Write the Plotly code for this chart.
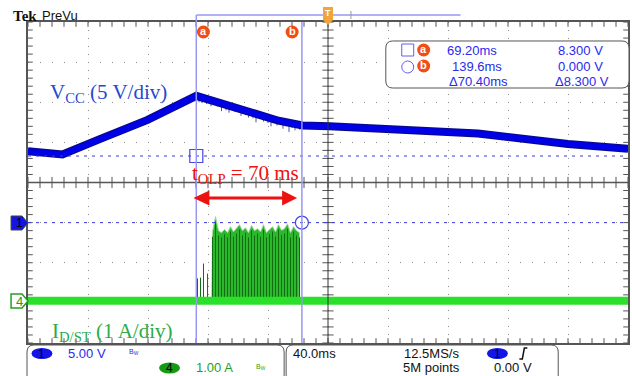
import numpy as np
import plotly.graph_objects as go

# CH1 : Vcc, 5 V/div  (time in ms, value in V)
vcc_t = [-43, -20, 4.8, 36.7, 69.2, 93, 111, 124, 140, 158, 257, 317, 357]
vcc_v = [8.9, 8.5, 10.4, 12.8, 15.8, 14.5, 13.5, 12.7, 12.1, 12.0, 11.1, 9.8, 9.2]
# downward glitches on Vcc during the overload window
vcc_glitch_t = [71, 73, 76, 79, 83, 86, 89, 91, 95, 99, 102, 104, 107, 109, 112, 114,
                117, 119, 121, 123, 125, 127, 129, 131, 133, 135, 138]
vcc_glitch_lo = [15.0, 14.9, 14.8, 14.5, 14.5, 13.9, 14.0, 13.7, 13.8, 13.3, 13.4, 13.1, 13.0, 12.5,
                 12.9, 12.6, 12.4, 12.0, 12.4, 12.1, 12.2, 11.7, 12.0, 11.3, 11.8, 11.5, 11.6]

# CH4 : Id/st, 1 A/div  (switching burst, peak of each pulse in A)
id_early_t = [70.0, 72.0, 74.0, 76.7]
id_early_pk = [0.68, 0.70, 1.05, 0.80]
id_block_t = [80, 82, 84, 86, 88, 90, 92, 94, 96, 98, 100, 102, 104, 106, 108,
              110, 112, 114, 116, 118, 120, 122, 124, 126, 128, 130, 132, 134, 136, 138]
id_block_pk = [1.72, 2.10, 1.75, 1.70, 1.78, 1.70, 1.85, 1.72, 1.80, 1.90, 1.75, 1.82, 1.70, 1.88, 1.75,
               1.80, 1.72, 1.90, 1.70, 1.78, 1.85, 1.72, 1.90, 1.76, 1.80, 1.92, 1.70, 1.85, 1.75, 1.70]
id_start, id_stop = 79.5, 137.8

# cursors
cursor_t = [69.2, 139.6]
cursor_v = [8.3, 0.0]
readout_t = ["69.20ms", "139.6ms", "\u039470.40ms"]
readout_v = ["8.300 V", "0.000 V", "\u03948.300 V"]

T0, T1 = -43, 357          # 10 div x 40 ms

# ---- screen geometry (pixels) ----
W, H = 632, 376
L, R, T, B = 28, 630, 22, 343
PXMS = (R - L) / (T1 - T0)
PXDIV = (B - T) / 8


def PX(x):
    return (x - L) / (R - L)


def PY(y):
    return (B - y) / (B - T)


BLUE_TXT = "#2a2aee"
GREEN_TXT = "#1f9f1f"
BORDER = "#555555"
GRID = "#8f8f8f"
CURSOR = "#9797f2"
ORANGE = "#f04e14"

fig = go.Figure()

# ---- CH4 burst ----
fig.add_trace(go.Scatter(
    x=[id_start] + id_block_t + [id_stop], y=[0] + id_block_pk + [0],
    yaxis="y3", mode="lines", fill="toself", fillcolor="#2cb82c",
    line=dict(color="#a8d8a8", width=1)))
xs, ys = [], []
for t, p in zip(id_early_t + id_block_t, id_early_pk + id_block_pk):
    xs += [t, t, None]
    ys += [0, p - 0.12, None]
fig.add_trace(go.Scatter(x=xs, y=ys, yaxis="y3", mode="lines",
                         line=dict(color="#0f6e0f", width=1)))
fig.add_trace(go.Scatter(x=[T0, T1], y=[0, 0], yaxis="y3", mode="lines",
                         line=dict(color="#2ae02a", width=8)))

# ---- CH1 Vcc ----
gx, gy = [], []
for t, lo in zip(vcc_glitch_t, vcc_glitch_lo):
    gx += [t, t, None]
    gy += [float(np.interp(t, vcc_t, vcc_v)), lo, None]
fig.add_trace(go.Scatter(x=gx, y=gy, yaxis="y2", mode="lines",
                         line=dict(color="#22228a", width=0.8)))
fig.add_trace(go.Scatter(x=vcc_t, y=vcc_v, yaxis="y2", mode="lines",
                         line=dict(color="#0a0a80", width=8)))
fig.add_trace(go.Scatter(x=vcc_t, y=vcc_v, yaxis="y2", mode="lines",
                         line=dict(color="#0000e6", width=6)))

# ---- graticule ticks ----
minor_x = np.arange(T0, T1 + 0.1, 8)
minor_y = np.arange(-4, 4.001, 0.2)
dy = 2 / PXDIV
dx = 2 / PXMS
tick_marker = dict(color=BORDER, line=dict(color=BORDER, width=1))
for yy, size in [(4 - dy, 4), (-4 + dy, 4), (0, 8)]:
    fig.add_trace(go.Scatter(x=minor_x, y=[yy] * len(minor_x), mode="markers",
                             marker=dict(symbol="line-ns", size=size, **tick_marker)))
for xx, size in [(T0 + dx, 4), (T1 - dx, 4), (157, 8)]:
    fig.add_trace(go.Scatter(x=[xx] * len(minor_y), y=minor_y, mode="markers",
                             marker=dict(symbol="line-ew", size=size, **tick_marker)))

# cursor markers
fig.add_trace(go.Scatter(x=cursor_t, y=cursor_v, yaxis="y2", mode="markers",
                         marker=dict(symbol=["square-open", "circle-open"], size=13,
                                     color="#4646e6", line=dict(width=1.2))))

shapes = []
# center lines
shapes.append(dict(type="line", xref="x", yref="paper", x0=157, x1=157, y0=0, y1=1,
                   line=dict(color="#333333", width=1)))
shapes.append(dict(type="line", xref="paper", yref="y", x0=0, x1=1, y0=0, y1=0,
                   line=dict(color="#555555", width=1.5)))
# horizontal (voltage) cursors
for v in cursor_v:
    shapes.append(dict(type="line", xref="paper", yref="y2", x0=0, x1=1, y0=v, y1=v,
                       line=dict(color="#3a3adc", width=1, dash="3px,5px")))
# vertical (time) cursors
shapes.append(dict(type="line", xref="x", yref="paper", x0=cursor_t[0], x1=cursor_t[0],
                   y0=0, y1=PY(15), line=dict(color=CURSOR, width=1.5)))
shapes.append(dict(type="line", xref="x", yref="paper", x0=cursor_t[1], x1=cursor_t[1],
                   y0=0, y1=1, line=dict(color=CURSOR, width=1.5)))
# record-view bar at top
shapes.append(dict(type="line", xref="paper", yref="paper", x0=PX(197), x1=PX(462),
                   y0=PY(15), y1=PY(15), line=dict(color=CURSOR, width=1.5)))
shapes.append(dict(type="line", xref="paper", yref="paper", x0=PX(352), x1=PX(352),
                   y0=PY(11), y1=PY(19), line=dict(color="#999999", width=1)))


def path(points, close=True):
    s = "M " + " L ".join(f"{PX(x):.5f},{PY(y):.5f}" for x, y in points)
    return s + (" Z" if close else "")


def rounded(x0, y0, x1, y1, r):
    c = lambda x, y: f"{PX(x):.5f},{PY(y):.5f}"
    return (f"M {c(x0 + r, y0)} L {c(x1 - r, y0)} Q {c(x1, y0)} {c(x1, y0 + r)} "
            f"L {c(x1, y1 - r)} Q {c(x1, y1)} {c(x1 - r, y1)} L {c(x0 + r, y1)} "
            f"Q {c(x0, y1)} {c(x0, y1 - r)} L {c(x0, y0 + r)} Q {c(x0, y0)} {c(x0 + r, y0)} Z")


# trigger marker
shapes.append(dict(type="path", xref="paper", yref="paper",
                   path=path([(324, 7), (334, 7), (334, 20), (329, 25), (324, 20)]),
                   fillcolor="#f2a43a", line=dict(width=0)))
# red double arrow (t_OLP)
shapes.append(dict(type="line", xref="paper", yref="paper", x0=PX(205), x1=PX(286),
                   y0=PY(198), y1=PY(198), line=dict(color="#ee1111", width=3)))
shapes.append(dict(type="path", xref="paper", yref="paper",
                   path=path([(194, 198), (210, 190.5), (210, 205.5)]),
                   fillcolor="#ee1111", line=dict(width=0)))
shapes.append(dict(type="path", xref="paper", yref="paper",
                   path=path([(298, 198), (283, 190.5), (283, 205.5)]),
                   fillcolor="#ee1111", line=dict(width=0)))
# cursor readout box
shapes.append(dict(type="path", xref="paper", yref="paper", path=rounded(387, 41, 631, 88, 7),
                   fillcolor="white", line=dict(color=BORDER, width=1)))
shapes.append(dict(type="rect", xref="paper", yref="paper", x0=PX(403), x1=PX(415),
                   y0=PY(56), y1=PY(44), line=dict(color="#6060ee", width=1)))
shapes.append(dict(type="circle", xref="paper", yref="paper", x0=PX(403), x1=PX(415),
                   y0=PY(73), y1=PY(61), line=dict(color="#6060ee", width=1)))
# bottom status boxes
shapes.append(dict(type="path", xref="paper", yref="paper", path=rounded(27, 345, 285, 382, 7),
                   fillcolor="white", line=dict(color=BORDER, width=1)))
shapes.append(dict(type="path", xref="paper", yref="paper", path=rounded(287, 345, 560, 382, 7),
                   fillcolor="white", line=dict(color=BORDER, width=1)))
# channel tags on the left
shapes.append(dict(type="path", xref="paper", yref="paper",
                   path=path([(11, 216), (22, 216), (28, 223), (22, 230), (11, 230)]),
                   fillcolor="#1414e0", line=dict(color="#444444", width=1)))
shapes.append(dict(type="path", xref="paper", yref="paper",
                   path=path([(11, 294), (22, 294), (28, 301), (22, 308), (11, 308)]),
                   fillcolor="white", line=dict(color="#22a022", width=1.5)))
# badges: a / b cursor ids, channel ovals
for cx, cy in [(204, 32), (293, 32), (425, 50), (425, 66)]:
    shapes.append(dict(type="circle", xref="paper", yref="paper", x0=PX(cx - 6.5), x1=PX(cx + 6.5),
                       y0=PY(cy + 6.5), y1=PY(cy - 6.5), fillcolor=ORANGE, line=dict(width=0)))
for cx, cy, col in [(42, 353.5, "#1414e6"), (170, 368, "#169a16"), (499, 353.5, "#1414e6")]:
    shapes.append(dict(type="circle", xref="paper", yref="paper", x0=PX(cx - 10.5), x1=PX(cx + 10.5),
                       y0=PY(cy + 5.5), y1=PY(cy - 5.5), fillcolor=col, line=dict(width=0)))
# trigger edge symbol
shapes.append(dict(type="path", xref="paper", yref="paper",
                   path=path([(521, 359), (524, 359), (526, 348), (529, 348)], close=False),
                   line=dict(color="#111111", width=1.5)))

ann = []


def txt(x, y, s, size=13, color="#111111", family="Liberation Sans", anchor="left", **kw):
    ann.append(dict(x=PX(x), y=PY(y), xref="paper", yref="paper", text=s, showarrow=False,
                    xanchor=anchor, yanchor="middle",
                    font=dict(size=size, color=color, family=family), **kw))


txt(11, 16, "<b>Tek</b>", size=15, family="Liberation Serif")
txt(40, 15, "PreVu", size=13)
txt(329, 13, "<b>T</b>", size=9, color="white", anchor="center")
for cx, cy, s in [(204, 32, "a"), (293, 32, "b"), (425, 50, "a"), (425, 66, "b")]:
    txt(cx, cy - 1, f"<b>{s}</b>", size=11, color="white", anchor="center")

rows_y = [50, 66.5, 81]
for i in range(3):
    txt(511.5 if i == 2 else (500.5 if i == 0 else 506), rows_y[i], readout_t[i], color=BLUE_TXT, anchor="right")
    txt(607 if i < 2 else 613, rows_y[i], readout_v[i], color=BLUE_TXT, anchor="right")

serif = "Liberation Serif"
txt(48, 93, "V<sub>CC</sub> (5 V/div)", size=21, color="#2448d0", family=serif)
txt(191, 174, "t<sub>OLP</sub> = 70 ms", size=21, color="#ee1111", family=serif)
txt(50, 332, "I<sub>D/ST</sub> (1 A/div)", size=21, color="#2aac4a", family=serif)

txt(19, 223, "1", size=12, color="#000000", anchor="center")
txt(19, 301, "4", size=13, color="#22a022", anchor="center")

# status bar
txt(42, 353.5, "1", size=12, color="#000000", anchor="center")
txt(66, 353.5, "5.00 V", color=BLUE_TXT)
txt(127, 352, "B<sub>W</sub>", size=7, color=BLUE_TXT)
txt(170, 368, "4", size=12, color="#000000", anchor="center")
txt(195, 368, "1.00 A", color=GREEN_TXT)
txt(255, 367, "B<sub>W</sub>", size=7, color=GREEN_TXT)
txt(292, 353.5, "40.0ms")
txt(403, 353.5, "12.5MS/s")
txt(402, 368, "5M points")
txt(499, 353.5, "1", size=12, color="#000000", anchor="center")
txt(494, 368, "0.00 V")

fig.update_layout(
    width=W, height=H, autosize=False,
    margin=dict(l=L, r=W - R, t=T, b=H - B, pad=0),
    paper_bgcolor="white", plot_bgcolor="white",
    showlegend=False, hovermode=False,
    shapes=shapes, annotations=ann,
    xaxis=dict(range=[T0, T1], showticklabels=False, ticks="", zeroline=False,
               showgrid=True, gridcolor=GRID, gridwidth=1, griddash="1px,7px",
               tick0=T0, dtick=40, showline=True, mirror=True,
               linecolor=BORDER, linewidth=1.5),
    yaxis=dict(range=[-4, 4], showticklabels=False, ticks="", zeroline=False,
               showgrid=True, gridcolor=GRID, gridwidth=1, griddash="1px,11px",
               tick0=-4, dtick=1, showline=True, mirror=True,
               linecolor=BORDER, linewidth=1.5),
    yaxis2=dict(range=[-15, 25], overlaying="y", visible=False),
    yaxis3=dict(range=[-1.05, 6.95], overlaying="y", visible=False),
)

# the page body has a default 8px margin; drop it so the figure fills the window
fig.write_html("out.html", config={"displayModeBar": False},
               post_script="document.body.style.margin='0';")
